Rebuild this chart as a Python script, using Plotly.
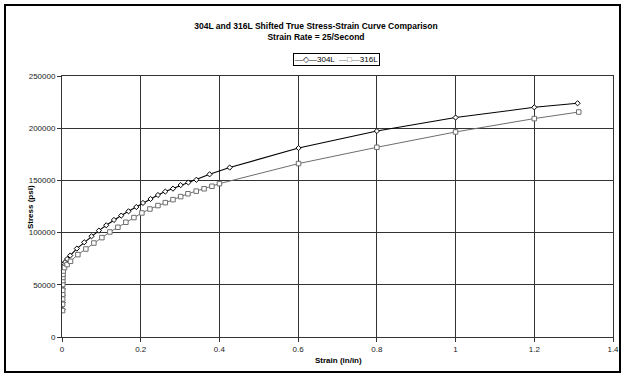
import plotly.graph_objects as go

# 304L data (strain in/in, stress psi)
strain_304 = [0.0015, 0.0016, 0.0017, 0.0018, 0.0019, 0.0021, 0.0025, 0.003, 0.004, 0.0055,
              0.008, 0.013, 0.0208, 0.0377, 0.0564, 0.075, 0.0937, 0.1124, 0.132, 0.1505,
              0.169, 0.1888, 0.2057, 0.225, 0.2438, 0.2625, 0.282, 0.3015, 0.321, 0.3415,
              0.375, 0.426, 0.601, 0.80, 1.0, 1.2, 1.31]
stress_304 = [26000, 33000, 40000, 46000, 52000, 58000, 63000, 66500, 69000, 70500,
              71800, 74700, 78000, 84700, 90700, 96500, 101900, 107000, 112100, 116300,
              120400, 124500, 128400, 132200, 136000, 139300, 142100, 145500, 148000, 150600,
              155800, 162300, 181000, 197300, 210200, 220000, 223900]

# 316L data
strain_316 = [0.0015, 0.0015, 0.0016, 0.0017, 0.0018, 0.0019, 0.002, 0.0022, 0.0025, 0.003,
              0.0064, 0.013, 0.0216, 0.0403, 0.0606, 0.081, 0.1013, 0.1216, 0.142, 0.1623,
              0.1827, 0.203, 0.2234, 0.2438, 0.2625, 0.282, 0.3015, 0.32, 0.341, 0.361,
              0.381, 0.40, 0.601, 0.80, 1.0, 1.2, 1.313]
stress_316 = [25300, 31300, 36400, 40800, 44700, 50200, 54000, 57000, 60000, 63200,
              66500, 69400, 72500, 78900, 84300, 90000, 95200, 100600, 105100, 109900,
              114400, 118800, 122600, 125900, 128700, 131600, 134500, 137200, 139700, 142000,
              144400, 146900, 166100, 181700, 196400, 209200, 215500]

series_names = ["304L", "316L"]
x_ticks = [0, 0.2, 0.4, 0.6, 0.8, 1, 1.2, 1.4]
x_tick_labels = ["0", "0.2", "0.4", "0.6", "0.8", "1", "1.2", "1.4"]
y_ticks = [0, 50000, 100000, 150000, 200000, 250000]
y_tick_labels = ["0", "50000", "100000", "150000", "200000", "250000"]

FONT = "Liberation Sans, Arial, sans-serif"
C304 = "#000000"
C316 = "#6e6e6e"

fig = go.Figure()
fig.add_trace(go.Scatter(
    x=strain_304, y=stress_304, name=series_names[0], mode="lines+markers",
    line=dict(color=C304, width=1.1),
    marker=dict(symbol="diamond", size=4, color="white",
                line=dict(color=C304, width=1)),
))
fig.add_trace(go.Scatter(
    x=strain_316, y=stress_316, name=series_names[1], mode="lines+markers",
    line=dict(color=C316, width=1),
    marker=dict(symbol="square", size=4.5, color="white",
                line=dict(color=C316, width=1)),
))

L, R, T, B = 62, 11, 76, 40
W, H = 624, 377
pw, ph = W - L - R, H - T - B

def px(xp):
    return (xp - L) / pw

def py(yp):
    return (H - B - yp) / ph

fig.update_layout(
    width=W, height=H,
    margin=dict(l=L, r=R, t=T, b=B, autoexpand=False),
    paper_bgcolor="white", plot_bgcolor="white",
    font=dict(family=FONT, size=8, color="#000000"),
    title=dict(
        text="<b>304L and 316L Shifted True Stress-Strain Curve Comparison<br>Strain Rate = 25/Second</b>",
        x=px(316), xanchor="center", xref="paper",
        y=1 - 29 / H, yanchor="top",
        font=dict(family=FONT, size=8.5, color="#000000"),
    ),
    showlegend=False,
    xaxis=dict(
        range=[0, 1.4], tickvals=x_ticks, ticktext=x_tick_labels,
        showgrid=True, gridcolor="#333333", gridwidth=1,
        showline=True, linecolor="#333333", linewidth=1, mirror=True,
        ticks="outside", ticklen=4, tickcolor="#333333",
        zeroline=False, automargin=False,
        tickfont=dict(family=FONT, size=8, color="#222222"),
    ),
    yaxis=dict(
        range=[0, 250000], tickvals=y_ticks, ticktext=y_tick_labels,
        showgrid=True, gridcolor="#333333", gridwidth=1,
        showline=True, linecolor="#333333", linewidth=1, mirror=True,
        ticks="outside", ticklen=4, tickcolor="#333333",
        zeroline=False, automargin=False,
        tickfont=dict(family=FONT, size=8, color="#222222"),
    ),
)

# axis titles
fig.add_annotation(text="<b>Strain (in/in)</b>", xref="paper", yref="paper",
                   x=px(338), y=py(360), xanchor="center", yanchor="middle",
                   showarrow=False, font=dict(family=FONT, size=8, color="#000000"))
fig.add_annotation(text="<b>Stress (psi)</b>", xref="paper", yref="paper",
                   x=px(30), y=py(207), xanchor="center", yanchor="middle",
                   textangle=-90, showarrow=False,
                   font=dict(family=FONT, size=8, color="#000000"))

# legend box (text legend like the original)
legend_text = (f"<span style='color:{C304}'>—◇—</span>{series_names[0]}  "
               f"<span style='color:{C316}'>—□—</span>{series_names[1]}")
fig.add_annotation(text=legend_text, xref="paper", yref="paper",
                   x=px(336), y=py(59.5), xanchor="center", yanchor="middle",
                   showarrow=False, bordercolor="#000000", borderwidth=1,
                   borderpad=1, bgcolor="white",
                   font=dict(family=FONT, size=8, color="#000000"))

# outer chart border
fig.add_shape(type="rect", xref="paper", yref="paper",
              x0=px(5), x1=px(620), y0=py(372), y1=py(5),
              line=dict(color="#000000", width=2), fillcolor="rgba(0,0,0,0)",
              layer="below")

fig.write_html("out.html", config={"displayModeBar": False},
               post_script="document.body.style.margin='0';document.body.style.overflow='hidden';")
